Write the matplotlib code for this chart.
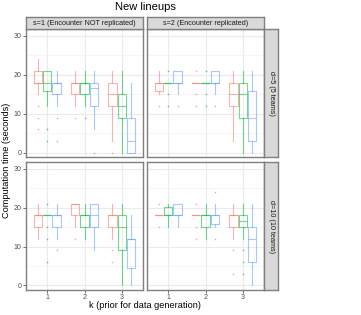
import numpy as np
import matplotlib
matplotlib.use("Agg")
import matplotlib.pyplot as plt

plt.rcParams["font.family"] = ["Liberation Sans", "DejaVu Sans"]

# data: per panel, [k][group] -> (q1, median, q3, whisker low, whisker high)
k_values = [1, 2, 3]
group_colors = ["#F8766D", "#00BA38", "#619CFF"]
y_ticks = [0, 10, 20, 30]

row_labels = ["d=5 (5 teams)", "d=10 (10 teams)"]
col_labels = ["s=1 (Encounter NOT replicated)", "s=2 (Encounter replicated)"]

d5_s1_box = [
    [(18, 18, 21, 15, 24), (15.75, 18, 21, 12, 21), (15, 18, 18, 12, 21)],
    [(15, 18, 18, 12, 21), (15, 18, 18, 12, 21), (12, 16.5, 18, 6, 21)],
    [(12, 15, 18, 3, 21), (9, 12, 15, 0, 21), (0, 3, 9, 0, 18)],
]
d5_s1_out = [
    [[12, 9, 6], [6, 3], [9, 3]],
    [[9], [9], [0]],
    [[0], [], []],
]

d5_s2_box = [
    [(15.75, 18, 18, 15, 21), (18, 18, 18, 18, 18), (18, 18, 21, 15, 21)],
    [(18, 18, 18, 18, 18), (18, 18, 18, 18, 18), (18, 18, 21, 15, 21)],
    [(12, 15, 18, 3, 21), (9, 15, 18, 0, 21), (3, 9, 15.75, 0, 21)],
]
d5_s2_out = [
    [[12], [21, 15, 12], [12]],
    [[21, 15, 12], [21, 15, 12], [12]],
    [[], [], []],
]

d10_s1_box = [
    [(15, 18, 18, 12, 21), (18, 18, 18, 18, 18), (15, 18, 18, 12, 21)],
    [(18, 21, 21, 15, 21), (15, 18, 18, 12, 21), (15, 18, 21, 9, 21)],
    [(15, 18, 18, 12, 21), (9, 15, 18, 0, 21), (4.5, 12, 12, 0, 18)],
]
d10_s1_out = [
    [[], [21, 15, 12, 6], [9]],
    [[12], [], []],
    [[9, 6], [], []],
]

d10_s2_box = [
    [(18, 18, 18, 18, 18), (18, 18, 20.25, 15, 21), (18, 18, 21, 15, 21)],
    [(18, 18, 18, 18, 18), (15, 18, 18, 12, 21), (15.75, 18, 18, 15, 21)],
    [(15, 18, 18, 12, 21), (15, 16.5, 18, 12, 21), (6, 12, 15, 0, 21)],
]
d10_s2_out = [
    [[21, 15], [], []],
    [[21, 15, 12], [], [24, 12]],
    [[9, 3], [9, 6, 3], []],
]

panels = [
    [(d5_s1_box, d5_s1_out), (d5_s2_box, d5_s2_out)],
    [(d10_s1_box, d10_s1_out), (d10_s2_box, d10_s2_out)],
]

W, H = 361, 315
fig = plt.figure(figsize=(W / 100, H / 100), dpi=100)


def px_axes(x0, y0, x1, y1):
    # pixel box (top-left origin) -> figure axes
    return fig.add_axes([x0 / W, 1 - y1 / H, (x1 - x0) / W, (y1 - y0) / H])


col_x = [(25.7, 143.3), (146.7, 264.3)]
row_y = [(29.3, 157.3), (162.3, 290.0)]
border = "#7F7F7F"
offsets = [-0.25, 0, 0.25]

for r in range(2):
    for c in range(2):
        ax = px_axes(col_x[c][0], row_y[r][0], col_x[c][1], row_y[r][1])
        boxes, outs = panels[r][c]
        ax.set_xlim(0.42, 3.58)
        ax.set_ylim(-1.2, 31.7)
        ax.set_yticks(y_ticks)
        ax.set_yticks([5, 15, 25], minor=True)
        ax.set_xticks(k_values)
        ax.grid(which="major", color="#EBEBEB", lw=0.8)
        ax.grid(which="minor", axis="y", color="#F2F2F2", lw=0.5)
        ax.set_axisbelow(True)
        for g in range(3):
            stats = []
            for ki in range(3):
                q1, med, q3, lo, hi = boxes[ki][g]
                stats.append(dict(q1=q1, med=med, q3=q3, whislo=lo, whishi=hi,
                                  fliers=outs[ki][g]))
            col = group_colors[g]
            ax.bxp(stats, positions=[k + offsets[g] for k in k_values], widths=0.225,
                   showcaps=False, manage_ticks=False,
                   boxprops=dict(color=col, lw=0.8, alpha=0.55),
                   whiskerprops=dict(color=col, lw=0.8, alpha=0.55),
                   medianprops=dict(color=col, lw=0.8, alpha=0.55),
                   flierprops=dict(marker="s", markersize=1.0, markerfacecolor=col,
                                   markeredgecolor="none", alpha=0.7))
        for sp in ax.spines.values():
            sp.set_color(border)
            sp.set_linewidth(1.0)
        ax.tick_params(which="minor", length=0)
        ax.tick_params(length=2, width=0.6, color="#555555", labelsize=5,
                       labelcolor="#4D4D4D", pad=1)
        if c == 0:
            ax.set_yticklabels([str(v) for v in y_ticks])
        else:
            ax.tick_params(axis="y", length=0, labelleft=False)
        if r == 1:
            ax.set_xticklabels([str(k) for k in k_values])
        else:
            ax.tick_params(axis="x", length=0, labelbottom=False)

# strips
for c in range(2):
    sa = px_axes(col_x[c][0], 17.3, col_x[c][1], 29.3)
    sa.set_facecolor("#D9D9D9")
    sa.set_xticks([])
    sa.set_yticks([])
    for sp in sa.spines.values():
        sp.set_color(border)
        sp.set_linewidth(1.0)
    sa.text(0.5, 0.45, col_labels[c], ha="center", va="center", fontsize=5.25,
            color="#1A1A1A", transform=sa.transAxes)

for r in range(2):
    sa = px_axes(264.3, row_y[r][0], 278.0, row_y[r][1])
    sa.set_facecolor("#D9D9D9")
    sa.set_xticks([])
    sa.set_yticks([])
    for sp in sa.spines.values():
        sp.set_color(border)
        sp.set_linewidth(1.0)
    sa.text(0.5, 0.5, row_labels[r], ha="center", va="center", fontsize=5.25,
            rotation=-90, color="#1A1A1A", transform=sa.transAxes)

fig.text(145 / W, 1 - 7.5 / H, "New lineups", ha="center", va="center", fontsize=8)
fig.text(145 / W, 1 - 306 / H, "k (prior for data generation)", ha="center",
         va="center", fontsize=6.6)
fig.text(7 / W, 1 - 160 / H, "Computation time (seconds)", ha="center",
         va="center", rotation=90, fontsize=6.6)

fig.savefig("out.png", dpi=100)
